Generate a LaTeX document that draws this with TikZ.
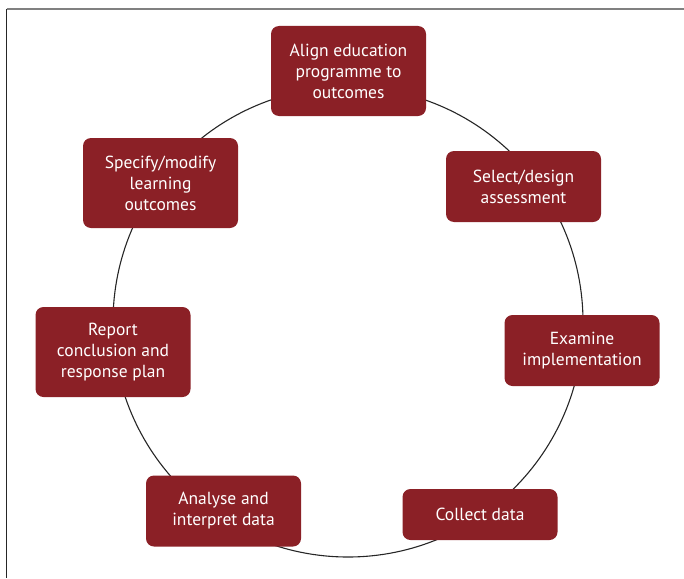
\documentclass[tikz,border=0pt]{standalone}
\usepackage{fontspec}
\setmainfont{PT Sans}
\usetikzlibrary{positioning}
\definecolor{boxred}{RGB}{139,32,38}

\begin{document}
\begin{tikzpicture}[
    x=1pt, y=-1pt,
    % Define styles
    step_box/.style={rectangle, rounded corners=8pt, fill=boxred, text=white, minimum width=155pt, align=center, inner sep=2pt, font=\fontsize{17.5}{21}\selectfont},
    one_line/.style={step_box, minimum height=51pt},
    two_lines/.style={step_box, minimum height=71pt},
    three_lines/.style={step_box, minimum height=90pt},
    ring/.style={line width=1.1pt, black!85},
    frame_top/.style={line width=1.6pt, black!50},
    frame_left/.style={line width=1.3pt, black!85}
]
\useasboundingbox (0,0) rectangle (684,578);

% Frame
\coordinate (corner) at (6.5,9);
\coordinate (top_end) at (684,9);
\coordinate (left_end) at (6.5,578);
\draw[frame_top] (corner) -- (top_end);
\draw[frame_left] (corner) -- (left_end);

% Cycle
\coordinate (hub) at (348,322);
\draw[ring] (hub) circle[radius=235pt];

% Steps
\node[three_lines] (align) at (348.5,71) {Align education\\programme to\\outcomes};
\node[two_lines] (select) at (523.5,186.5) {Select/design\\assessment};
\node[two_lines] (examine) at (582,350.5) {Examine\\implementation};
\node[one_line] (collect) at (480,514.5) {Collect data};
\node[two_lines] (analyse) at (223.5,511) {Analyse and\\interpret data};
\node[three_lines] (report) at (113,352) {Report\\conclusion and\\response plan};
\node[three_lines] (specify) at (160.5,183) {Specify/modify\\learning\\outcomes};

\end{tikzpicture}
\end{document}
